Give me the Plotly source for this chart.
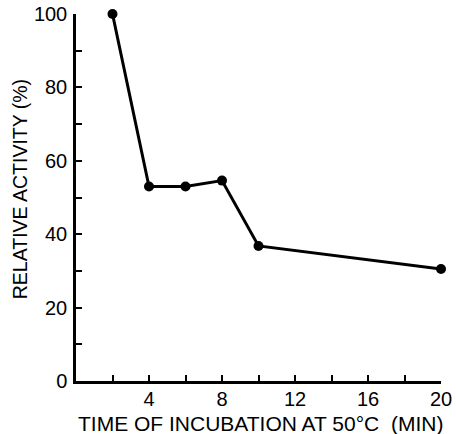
import plotly.graph_objects as go

time_min = [2, 4, 6, 8, 10, 20]
activity = [100, 53, 53, 54.6, 36.8, 30.5]

x_tickvals = [2, 4, 6, 8, 10, 12, 14, 16, 18, 20]
x_ticktext = ["", "4", "", "8", "", "12", "", "16", "", "20"]
y_tickvals = [0, 10, 20, 30, 40, 50, 60, 70, 80, 90, 100]
y_ticktext = ["0", "", "20", "", "40", "", "60", "", "80", "", "100"]

x_title = "TIME OF INCUBATION AT 50°C  (MIN)"
y_title = "RELATIVE ACTIVITY (%)"

font_family = "Liberation Sans, Arial, sans-serif"

fig = go.Figure()
fig.add_trace(go.Scatter(
    x=time_min, y=activity, mode="lines+markers",
    line=dict(color="black", width=3),
    marker=dict(color="black", size=10),
    cliponaxis=False, showlegend=False,
))

fig.update_layout(
    width=456, height=434,
    margin=dict(l=76, r=15, t=14, b=53),
    paper_bgcolor="white", plot_bgcolor="white",
    font=dict(family=font_family, color="black", size=18),
    xaxis=dict(
        range=[0, 20], showgrid=False, zeroline=False, automargin=False,
        showline=True, linecolor="black", linewidth=2.5,
        ticks="inside", ticklen=6, tickwidth=2, tickcolor="black",
        tickvals=x_tickvals, ticktext=x_ticktext,
        tickfont=dict(size=20), ticklabelstandoff=-2,
    ),
    yaxis=dict(
        range=[0, 100], showgrid=False, zeroline=False, automargin=False,
        showline=True, linecolor="black", linewidth=2.5,
        ticks="inside", ticklen=6, tickwidth=2, tickcolor="black",
        tickvals=y_tickvals, ticktext=y_ticktext,
        tickfont=dict(size=20), ticklabelstandoff=2,
    ),
    annotations=[
        dict(text=x_title, xref="paper", yref="paper", x=0.505, y=-0.116,
             xanchor="center", yanchor="middle", showarrow=False,
             font=dict(size=21)),
        dict(text=y_title, xref="paper", yref="paper", x=-0.153, y=0.523,
             xanchor="center", yanchor="middle", showarrow=False, textangle=-90,
             font=dict(size=19.5)),
    ],
)

fig.write_html("out.html")
